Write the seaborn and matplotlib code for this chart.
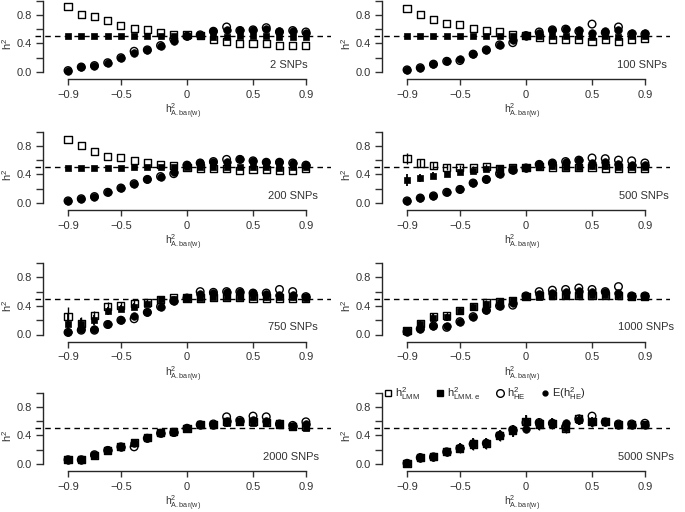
import matplotlib
matplotlib.use("Agg")

import matplotlib.pyplot as plt
from matplotlib.lines import Line2D
import seaborn as sns

# --- DATA ---
x = [-0.9, -0.8, -0.7, -0.6, -0.5, -0.4, -0.3, -0.2, -0.1, 0.0,
     0.1, 0.2, 0.3, 0.4, 0.5, 0.6, 0.7, 0.8, 0.9]

lmm_2 = [0.91, 0.80, 0.77, 0.72, 0.65, 0.61, 0.60, 0.55, 0.53, 0.52, 0.51, 0.46, 0.43, 0.40, 0.40, 0.40, 0.37, 0.37, 0.37]
lmme_2 = [0.50, 0.50, 0.50, 0.50, 0.50, 0.50, 0.50, 0.50, 0.50, 0.50, 0.50, 0.49, 0.49, 0.50, 0.50, 0.50, 0.49, 0.49, 0.49]
he_2 = [0.02, 0.07, 0.09, 0.13, 0.20, 0.29, 0.31, 0.37, 0.46, 0.50, 0.52, 0.57, 0.63, 0.58, 0.59, 0.62, 0.56, 0.58, 0.56]
ehe_2 = [0.02, 0.07, 0.09, 0.13, 0.20, 0.27, 0.31, 0.37, 0.44, 0.50, 0.52, 0.58, 0.59, 0.59, 0.59, 0.60, 0.58, 0.57, 0.55]

lmm_100 = [0.89, 0.81, 0.74, 0.68, 0.67, 0.61, 0.58, 0.56, 0.53, 0.51, 0.48, 0.46, 0.45, 0.45, 0.43, 0.45, 0.43, 0.46, 0.47]
lmme_100 = [0.50, 0.50, 0.50, 0.50, 0.50, 0.50, 0.50, 0.50, 0.50, 0.50, 0.50, 0.50, 0.50, 0.50, 0.49, 0.50, 0.49, 0.50, 0.50]
he_100 = [0.03, 0.06, 0.11, 0.15, 0.16, 0.25, 0.31, 0.38, 0.41, 0.51, 0.56, 0.59, 0.60, 0.57, 0.67, 0.55, 0.63, 0.53, 0.53]
ehe_100 = [0.03, 0.06, 0.11, 0.15, 0.18, 0.25, 0.31, 0.38, 0.45, 0.51, 0.54, 0.59, 0.60, 0.59, 0.54, 0.57, 0.59, 0.54, 0.54]

lmm_200 = [0.89, 0.80, 0.72, 0.65, 0.63, 0.59, 0.56, 0.54, 0.52, 0.50, 0.49, 0.48, 0.48, 0.45, 0.47, 0.47, 0.45, 0.45, 0.48]
lmme_200 = [0.49, 0.49, 0.49, 0.49, 0.49, 0.50, 0.50, 0.50, 0.50, 0.50, 0.50, 0.50, 0.50, 0.50, 0.50, 0.50, 0.49, 0.50, 0.50]
he_200 = [0.03, 0.06, 0.09, 0.15, 0.21, 0.27, 0.33, 0.37, 0.41, 0.53, 0.56, 0.58, 0.61, 0.61, 0.59, 0.57, 0.57, 0.56, 0.53]
ehe_200 = [0.03, 0.06, 0.09, 0.15, 0.21, 0.27, 0.33, 0.37, 0.43, 0.53, 0.56, 0.58, 0.58, 0.61, 0.59, 0.57, 0.57, 0.56, 0.53]

lmm_500 = [0.62, 0.56, 0.52, 0.50, 0.50, 0.49, 0.51, 0.48, 0.49, 0.50, 0.51, 0.50, 0.50, 0.50, 0.50, 0.49, 0.49, 0.49, 0.49]
lmme_500 = [0.32, 0.35, 0.38, 0.41, 0.43, 0.45, 0.48, 0.49, 0.49, 0.50, 0.51, 0.52, 0.51, 0.51, 0.52, 0.52, 0.51, 0.51, 0.50]
he_500 = [0.03, 0.07, 0.10, 0.15, 0.19, 0.28, 0.33, 0.41, 0.46, 0.49, 0.54, 0.56, 0.58, 0.60, 0.63, 0.62, 0.60, 0.59, 0.56]
ehe_500 = [0.03, 0.07, 0.10, 0.15, 0.19, 0.28, 0.33, 0.41, 0.46, 0.49, 0.54, 0.56, 0.58, 0.60, 0.56, 0.57, 0.55, 0.53, 0.53]
err_500 = [0.08, 0.06, 0.05, 0.04, 0.03, 0.03, 0.03, 0.03, 0.02, 0.02, 0.02, 0.02, 0.02, 0.02, 0.02, 0.02, 0.02, 0.02, 0.02]

lmm_750 = [0.25, 0.16, 0.26, 0.39, 0.40, 0.43, 0.45, 0.49, 0.51, 0.51, 0.51, 0.52, 0.52, 0.52, 0.51, 0.51, 0.51, 0.51, 0.51]
lmme_750 = [0.15, 0.15, 0.20, 0.33, 0.36, 0.39, 0.43, 0.49, 0.49, 0.51, 0.51, 0.53, 0.53, 0.52, 0.53, 0.53, 0.52, 0.52, 0.51]
he_750 = [0.03, 0.06, 0.06, 0.14, 0.20, 0.22, 0.31, 0.39, 0.47, 0.51, 0.60, 0.59, 0.60, 0.60, 0.58, 0.58, 0.63, 0.60, 0.53]
ehe_750 = [0.03, 0.07, 0.08, 0.14, 0.20, 0.26, 0.31, 0.39, 0.47, 0.51, 0.56, 0.58, 0.60, 0.60, 0.58, 0.57, 0.55, 0.55, 0.53]
err_750 = [0.14, 0.08, 0.07, 0.06, 0.05, 0.05, 0.04, 0.03, 0.03, 0.02, 0.03, 0.03, 0.03, 0.03, 0.03, 0.03, 0.03, 0.03, 0.02]

lmm_1000 = [0.05, 0.15, 0.25, 0.26, 0.34, 0.39, 0.44, 0.46, 0.48, 0.53, 0.55, 0.55, 0.55, 0.55, 0.55, 0.55, 0.55, 0.53, 0.53]
lmme_1000 = [0.05, 0.14, 0.23, 0.24, 0.33, 0.38, 0.43, 0.45, 0.48, 0.52, 0.53, 0.54, 0.54, 0.55, 0.55, 0.55, 0.55, 0.53, 0.53]
he_1000 = [0.04, 0.08, 0.12, 0.10, 0.18, 0.25, 0.34, 0.40, 0.41, 0.54, 0.60, 0.62, 0.63, 0.65, 0.63, 0.60, 0.67, 0.54, 0.54]
ehe_1000 = [0.04, 0.08, 0.12, 0.12, 0.18, 0.25, 0.34, 0.40, 0.44, 0.54, 0.57, 0.58, 0.60, 0.61, 0.60, 0.59, 0.58, 0.54, 0.54]
err_1000 = [0.04, 0.05, 0.05, 0.05, 0.05, 0.05, 0.04, 0.04, 0.03, 0.03, 0.04, 0.04, 0.04, 0.04, 0.04, 0.04, 0.05, 0.03, 0.03]

lmm_2000 = [0.06, 0.06, 0.12, 0.19, 0.24, 0.30, 0.37, 0.44, 0.45, 0.50, 0.55, 0.55, 0.59, 0.60, 0.59, 0.58, 0.56, 0.53, 0.52]
lmme_2000 = [0.06, 0.06, 0.12, 0.18, 0.24, 0.29, 0.36, 0.43, 0.45, 0.49, 0.54, 0.54, 0.57, 0.59, 0.57, 0.57, 0.55, 0.53, 0.51]
he_2000 = [0.06, 0.06, 0.13, 0.19, 0.24, 0.24, 0.36, 0.43, 0.44, 0.50, 0.55, 0.56, 0.66, 0.61, 0.67, 0.66, 0.56, 0.54, 0.59]
ehe_2000 = [0.06, 0.06, 0.12, 0.19, 0.24, 0.29, 0.36, 0.43, 0.45, 0.50, 0.55, 0.55, 0.60, 0.60, 0.61, 0.60, 0.56, 0.53, 0.56]
err_2000 = [0.04, 0.03, 0.04, 0.04, 0.05, 0.05, 0.05, 0.05, 0.05, 0.04, 0.04, 0.04, 0.05, 0.04, 0.04, 0.04, 0.03, 0.03, 0.03]

lmm_5000 = [0.01, 0.09, 0.10, 0.17, 0.22, 0.28, 0.29, 0.40, 0.47, 0.59, 0.56, 0.57, 0.50, 0.63, 0.59, 0.59, 0.55, 0.55, 0.55]
lmme_5000 = [0.01, 0.09, 0.10, 0.17, 0.22, 0.28, 0.29, 0.40, 0.46, 0.59, 0.56, 0.57, 0.50, 0.62, 0.59, 0.59, 0.55, 0.55, 0.54]
he_5000 = [0.01, 0.09, 0.10, 0.17, 0.22, 0.28, 0.29, 0.40, 0.48, 0.58, 0.58, 0.57, 0.52, 0.63, 0.67, 0.59, 0.56, 0.56, 0.57]
ehe_5000 = [0.01, 0.09, 0.10, 0.17, 0.22, 0.28, 0.29, 0.40, 0.47, 0.49, 0.56, 0.57, 0.58, 0.62, 0.59, 0.59, 0.55, 0.55, 0.55]
err_5000 = [0.03, 0.06, 0.06, 0.06, 0.07, 0.08, 0.08, 0.08, 0.08, 0.10, 0.08, 0.08, 0.07, 0.07, 0.07, 0.06, 0.05, 0.05, 0.05]

panel_labels = ["2 SNPs", "100 SNPs", "200 SNPs", "500 SNPs",
                "750 SNPs", "1000 SNPs", "2000 SNPs", "5000 SNPs"]
panels = [
    (lmm_2, lmme_2, he_2, ehe_2, None),
    (lmm_100, lmme_100, he_100, ehe_100, None),
    (lmm_200, lmme_200, he_200, ehe_200, None),
    (lmm_500, lmme_500, he_500, ehe_500, err_500),
    (lmm_750, lmme_750, he_750, ehe_750, err_750),
    (lmm_1000, lmme_1000, he_1000, ehe_1000, err_1000),
    (lmm_2000, lmme_2000, he_2000, ehe_2000, err_2000),
    (lmm_5000, lmme_5000, he_5000, ehe_5000, err_5000),
]

# --- STYLE ---
sns.set_style("ticks")
plt.rcParams["font.family"] = ["Liberation Sans", "DejaVu Sans"]
plt.rcParams["mathtext.fontset"] = "custom"
plt.rcParams["mathtext.rm"] = "Liberation Sans"
plt.rcParams["mathtext.it"] = "Liberation Sans"
plt.rcParams["axes.linewidth"] = 1.0

fig = plt.figure(figsize=(6.85, 5.12), dpi=100)

col_left = [35 / 685, 374 / 685]
ax_w = 296 / 685
row_zero = [72, 203, 334.5, 464]   # pixel row of y = 0 (from top)
unit = 71.5                        # pixels per y unit
ax_h = 1.1 * unit / 512
label_x = [0.91, 1.07, 0.99, 1.08, 0.99, 1.12, 1.0, 1.12]
txt = "#333333"

for i, (lmm, lmme, he, ehe, err) in enumerate(panels):
    row, col = divmod(i, 2)
    bottom = 1 - (row_zero[row] + 0.1 * unit) / 512
    ax = fig.add_axes([col_left[col], bottom, ax_w, ax_h])
    ax.set_xlim(-1.15, 1.09)
    ax.set_ylim(-0.1, 1.0)

    ax.axhline(0.5, color="black", lw=1.0, ls=(0, (4, 3)), zorder=1)

    if err is not None:
        ax.errorbar(x, lmme, yerr=err, fmt="none", ecolor="black",
                    elinewidth=1.3, capsize=0, zorder=2)
        ax.errorbar(x, lmm, yerr=err, fmt="none", ecolor="black",
                    elinewidth=1.0, capsize=0, zorder=2)

    sns.scatterplot(x=x, y=ehe, ax=ax, marker="o", s=30, color="black",
                    edgecolor="black", linewidth=0.5, zorder=3, clip_on=False)
    sns.scatterplot(x=x, y=he, ax=ax, marker="o", s=30, facecolor="none",
                    edgecolor="black", linewidth=1.0, zorder=4, clip_on=False)
    sns.scatterplot(x=x, y=lmm, ax=ax, marker="s", s=26, facecolor="none",
                    edgecolor="black", linewidth=1.0, zorder=5, clip_on=False)
    sns.scatterplot(x=x, y=lmme, ax=ax, marker="s", s=23, color="black",
                    edgecolor="black", linewidth=0.5, zorder=6, clip_on=False)

    # R-style detached axes
    sns.despine(ax=ax)
    ax.spines["left"].set_position(("data", -1.09))
    ax.spines["left"].set_bounds(0, 1.0)
    ax.spines["bottom"].set_bounds(-0.9, 0.9)

    ax.set_yticks([0.0, 0.2, 0.4, 0.6, 0.8, 1.0])
    ax.set_yticklabels(["0.0", "", "0.4", "", "0.8", ""])
    ax.set_xticks([-0.9, -0.5, 0, 0.5, 0.9])
    ax.set_xticklabels(["\u22120.9", "\u22120.5", "0", "0.5", "0.9"])
    ax.tick_params(axis="y", length=5, width=1.0, pad=3,
                   labelsize=8, color=txt, labelcolor=txt)
    ax.tick_params(axis="x", length=4.5, width=1.0, pad=3,
                   labelsize=8, color=txt, labelcolor=txt)

    ax.set_ylabel(r"$\mathregular{h^2}$", fontsize=8, color=txt)
    ax.yaxis.set_label_coords(-0.072, 0.45)
    ax.set_xlabel(r"$\mathregular{h^2_{A.bar(w)}}$", fontsize=7.5,
                  color=txt, labelpad=1.5)

    ax.text(label_x[i], 0.1, panel_labels[i], ha="right", va="center",
            fontsize=8, color=txt)

    if i == len(panels) - 1:
        handles = [
            Line2D([], [], marker="s", ls="none", mfc="none", mec="black", ms=5, mew=1.0),
            Line2D([], [], marker="s", ls="none", mfc="black", mec="black", ms=4.5),
            Line2D([], [], marker="o", ls="none", mfc="none", mec="black", ms=5.5, mew=1.0),
            Line2D([], [], marker="o", ls="none", mfc="black", mec="black", ms=3.5),
        ]
        labels = [r"$\mathregular{h^2_{LMM}}$", r"$\mathregular{h^2_{LMM.e}}$",
                  r"$\mathregular{h^2_{HE}}$", r"E($\mathregular{h^2_{HE}}$)"]
        ax.legend(handles, labels, loc="center left", bbox_to_anchor=(0.035, 0.99),
                  ncol=4, frameon=False, fontsize=8, handlelength=0.7,
                  handletextpad=0.3, columnspacing=1.4, borderpad=0,
                  borderaxespad=0)

fig.savefig("out.png", dpi=100)
